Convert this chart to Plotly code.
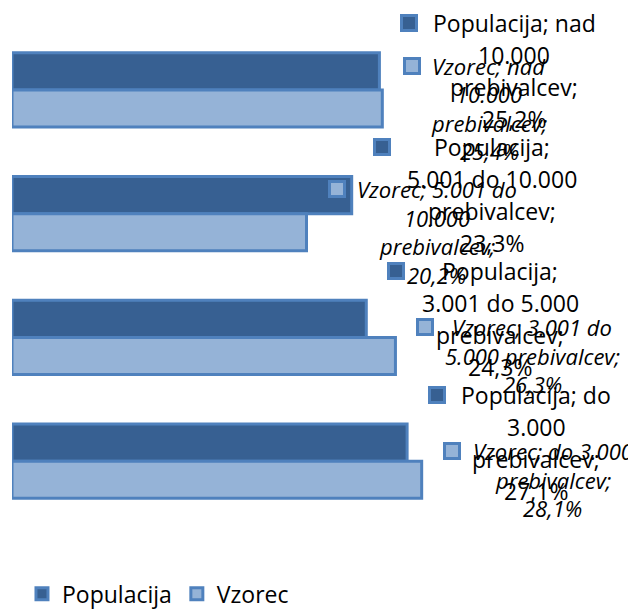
import textwrap
import plotly.graph_objects as go

# ---- data ----
categories = ["nad 10.000 prebivalcev", "5.001 do 10.000 prebivalcev",
              "3.001 do 5.000 prebivalcev", "do 3.000 prebivalcev"]
series_names = ["Populacija", "Vzorec"]
populacija = [25.2, 23.3, 24.3, 27.1]
vzorec = [25.4, 20.2, 26.3, 28.1]

# ---- style / layout ----
BORDER = "#4F81BD"
FILLS = ["#376092", "#95B3D7"]
FONT = "Open Sans"
label_wrap = [[15, 15, 15, 15], [16, 16, 18, 16]]          # chars per line
label_center_shift = [[135, 140, 134, 129], [107, 130, 137, 131]]  # px from bar end
label_font = [dict(size=23, style="normal"), dict(size=22, style="italic")]
line_spacing = [32, 28.5]
key_shift = 30
group_off = 0.15

fig = go.Figure()
for name, vals, fill in zip(series_names, [populacija, vzorec], FILLS):
    fig.add_trace(go.Bar(
        name=name, y=categories, x=vals, orientation="h",
        marker=dict(color=fill, line=dict(color=BORDER, width=3)),
        hoverinfo="skip",
    ))

annotations = []
for s, (name, vals) in enumerate(zip(series_names, [populacija, vzorec])):
    sign = -1 if s == 0 else 1
    for i, (cat, v) in enumerate(zip(categories, vals)):
        txt = f"{name}; {cat}; {str(v).replace('.', ',')}%"
        lines = textwrap.wrap(txt, label_wrap[s][i])
        ypos = i + sign * group_off
        n = len(lines)
        for k, line in enumerate(lines):
            annotations.append(dict(
                x=v, y=ypos, xref="x", yref="y", text=line,
                showarrow=False, xanchor="center", yanchor="middle", align="center",
                xshift=label_center_shift[s][i],
                yshift=((n - 1) / 2 - k) * line_spacing[s],
                font=dict(family=FONT, size=label_font[s]["size"], color="#000000",
                          style=label_font[s]["style"]),
            ))
        annotations.append(dict(
            x=v, y=ypos, xref="x", yref="y", text=" ",
            showarrow=False, xanchor="center", yanchor="middle",
            xshift=key_shift, yshift=(n - 1) / 2 * line_spacing[s],
            width=12, height=12, bgcolor=FILLS[s], bordercolor=BORDER,
            borderwidth=3, borderpad=0, font=dict(size=6),
        ))

fig.update_layout(
    width=628, height=602,
    margin=dict(l=4, r=0, t=20, b=87, autoexpand=False),
    paper_bgcolor="white", plot_bgcolor="white",
    barmode="group", bargap=0.4, bargroupgap=0,
    xaxis=dict(range=[0, 42.8], showgrid=False, zeroline=False,
               showticklabels=False, showline=False, ticks=""),
    yaxis=dict(range=[len(categories) - 0.5, -0.5], showgrid=False, zeroline=False,
               showticklabels=False, showline=False, ticks=""),
    showlegend=True,
    legend=dict(orientation="h", x=0.016, xanchor="left", y=-0.143, yanchor="middle",
                font=dict(family=FONT, size=23, color="#000000"),
                traceorder="normal", itemwidth=30),
    annotations=annotations,
    font=dict(family=FONT),
)

fig.write_html("out.html")
